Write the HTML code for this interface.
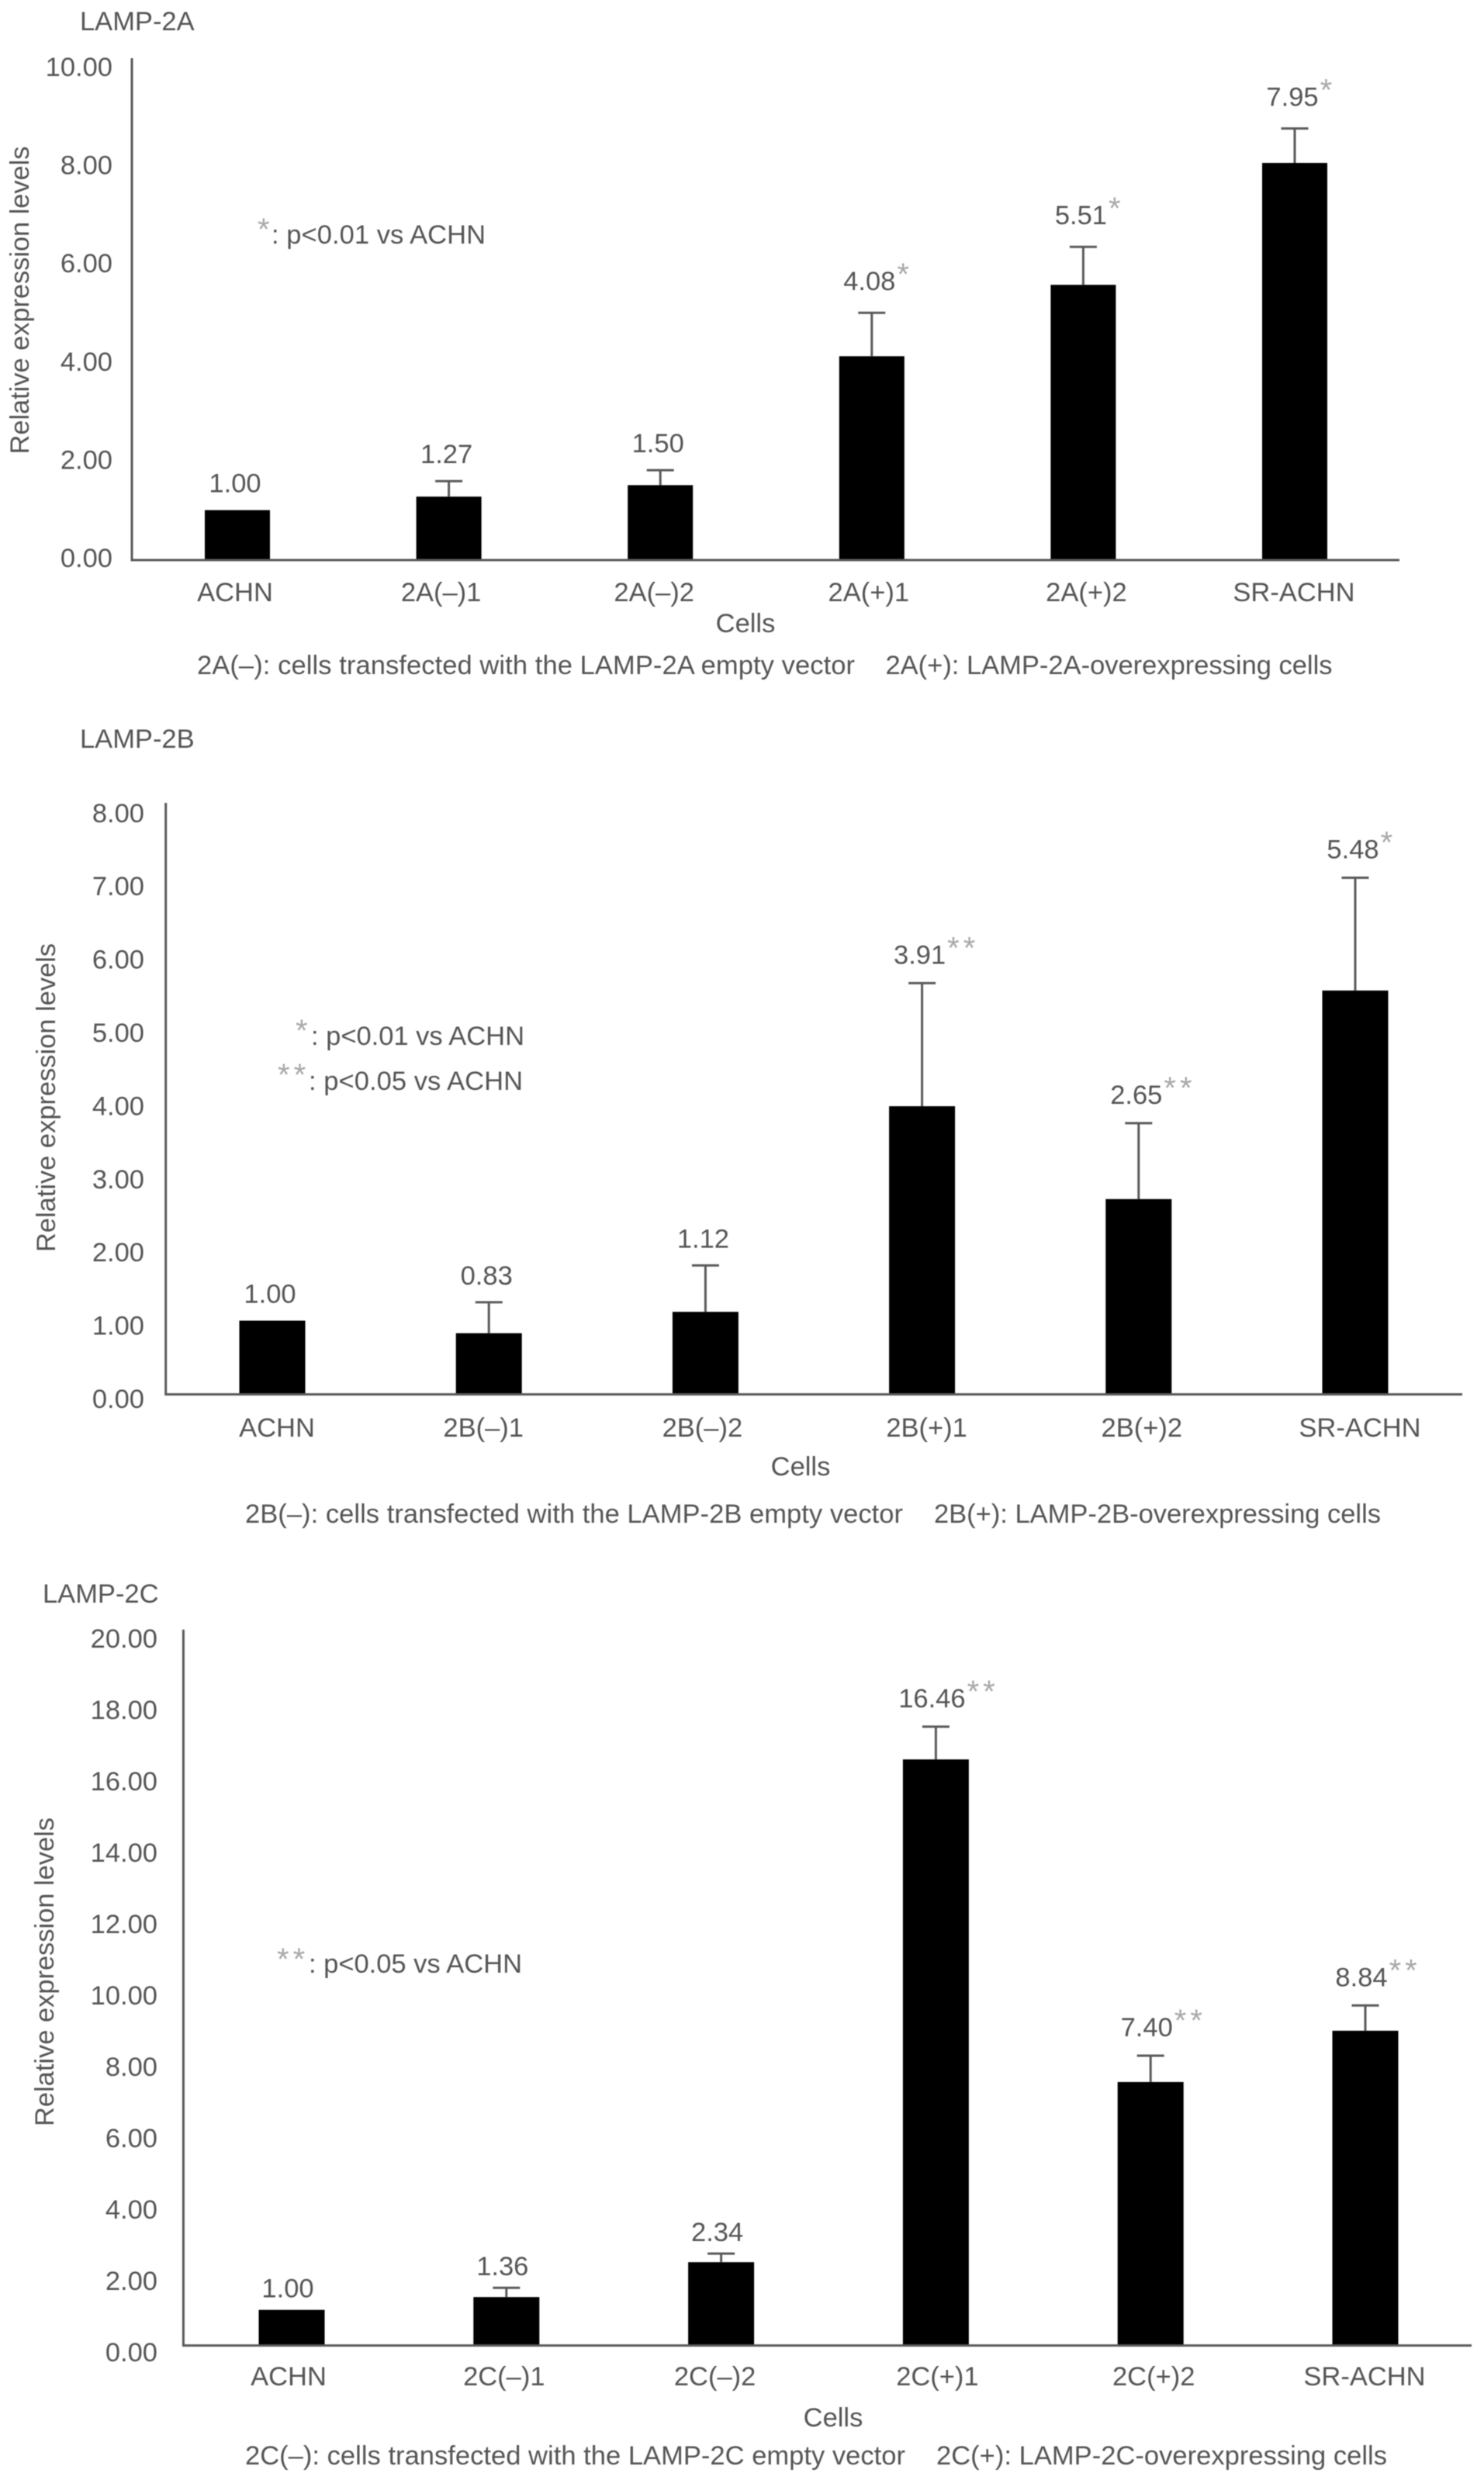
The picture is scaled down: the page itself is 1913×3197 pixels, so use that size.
<!DOCTYPE html>
<html lang="en">
<head>
<meta charset="utf-8">
<title>LAMP-2A, LAMP-2B and LAMP-2C relative expression levels</title>
<style>
html,body{margin:0;padding:0;background:#fff;}
svg{display:block;filter:blur(0.6px);}
text{font-family:"Liberation Sans",Arial,sans-serif;font-size:34.5px;fill:#555;}
.star{font-size:40px;fill:#a8a8a8;}
</style>
</head>
<body>
<svg id="figure" xmlns="http://www.w3.org/2000/svg" width="1913" height="3197" viewBox="0 0 1913 3197">
  <rect x="0" y="0" width="1913" height="3197" fill="#fff"/>

  <g id="panel-a">
    <text x="103" y="39">LAMP-2A</text>
    <text transform="translate(37,387) rotate(-90)" text-anchor="middle" textLength="397" lengthAdjust="spacing">Relative expression levels</text>
    <text x="961" y="815" text-anchor="middle">Cells</text>
    <text class="star" x="332" y="309">*</text>
    <text x="350" y="314" textLength="276" lengthAdjust="spacing">: p&lt;0.01 vs ACHN</text>
    <text x="254" y="869" textLength="848" lengthAdjust="spacing">2A(–): cells transfected with the LAMP-2A empty vector</text>
    <text x="1141.5" y="869" textLength="576" lengthAdjust="spacing">2A(+): LAMP-2A-overexpressing cells</text>
  </g>

  <g id="panel-b">
    <text x="103" y="964">LAMP-2B</text>
    <text transform="translate(71,1415) rotate(-90)" text-anchor="middle" textLength="398" lengthAdjust="spacing">Relative expression levels</text>
    <text x="1032" y="1902" text-anchor="middle">Cells</text>
    <text class="star" x="381" y="1342">*</text>
    <text x="401" y="1347" textLength="275" lengthAdjust="spacing">: p&lt;0.01 vs ACHN</text>
    <text class="star" x="358" y="1399" letter-spacing="5">**</text>
    <text x="398" y="1405" textLength="276" lengthAdjust="spacing">: p&lt;0.05 vs ACHN</text>
    <text x="316" y="1963" textLength="848" lengthAdjust="spacing">2B(–): cells transfected with the LAMP-2B empty vector</text>
    <text x="1204" y="1963" textLength="576" lengthAdjust="spacing">2B(+): LAMP-2B-overexpressing cells</text>
  </g>

  <g id="panel-c">
    <text x="55" y="2066">LAMP-2C</text>
    <text transform="translate(69,2542) rotate(-90)" text-anchor="middle" textLength="398" lengthAdjust="spacing">Relative expression levels</text>
    <text x="1074" y="3128" text-anchor="middle">Cells</text>
    <text class="star" x="357" y="2539" letter-spacing="5">**</text>
    <text x="398" y="2543" textLength="275" lengthAdjust="spacing">: p&lt;0.05 vs ACHN</text>
    <text x="316" y="3177" textLength="851" lengthAdjust="spacing">2C(–): cells transfected with the LAMP-2C empty vector</text>
    <text x="1207" y="3177" textLength="581" lengthAdjust="spacing">2C(+): LAMP-2C-overexpressing cells</text>
  </g>
</svg>

<script>
/* ---------- Panel A data ---------- */
const lamp2aCategories = ['ACHN', '2A(–)1', '2A(–)2', '2A(+)1', '2A(+)2', 'SR-ACHN'];
const lamp2aValues = [1.00, 1.27, 1.50, 4.08, 5.51, 7.95];
const lamp2aErrors = [0, 0.31, 0.30, 0.87, 0.76, 0.69];
const lamp2aStars = ['', '', '', '*', '*', '*'];
const lamp2aTicks = ['0.00', '2.00', '4.00', '6.00', '8.00', '10.00'];

/* ---------- Panel B data ---------- */
const lamp2bCategories = ['ACHN', '2B(–)1', '2B(–)2', '2B(+)1', '2B(+)2', 'SR-ACHN'];
const lamp2bValues = [1.00, 0.83, 1.12, 3.91, 2.65, 5.48];
const lamp2bErrors = [0, 0.42, 0.63, 1.67, 1.03, 1.53];
const lamp2bStars = ['', '', '', '**', '**', '*'];
const lamp2bTicks = ['0.00', '1.00', '2.00', '3.00', '4.00', '5.00', '6.00', '7.00', '8.00'];

/* ---------- Panel C data ---------- */
const lamp2cCategories = ['ACHN', '2C(–)1', '2C(–)2', '2C(+)1', '2C(+)2', 'SR-ACHN'];
const lamp2cValues = [1.00, 1.36, 2.34, 16.46, 7.40, 8.84];
const lamp2cErrors = [0, 0.26, 0.24, 0.92, 0.74, 0.71];
const lamp2cStars = ['', '', '', '**', '**', '**'];
const lamp2cTicks = ['0.00', '2.00', '4.00', '6.00', '8.00', '10.00', '12.00', '14.00', '16.00', '18.00', '20.00'];

const SVG_NS = 'http://www.w3.org/2000/svg';

function make(parent, tag, attrs, content) {
  const el = document.createElementNS(SVG_NS, tag);
  for (const key in attrs) el.setAttribute(key, attrs[key]);
  if (content !== undefined) el.textContent = content;
  parent.appendChild(el);
  return el;
}

function drawPanel(panelId, key, categories, values, errors, stars, ticks, layout) {
  const root = document.getElementById(panelId);
  /* axis functions */
  const xScale = function (i) { return layout.bandStart + layout.bandStep * (i + 0.5); };
  const yScale = function (v) { return layout.baseY - v * layout.unitPx; };
  const tickY = function (v) { return layout.tickBaseY - v * layout.tickUnitPx; };
  const lineStyle = { stroke: '#5a5a5a', 'stroke-width': 3, fill: 'none' };

  categories.forEach(function (cat, i) {
    const cx = xScale(i);
    const top = yScale(values[i]);

    const bar = make(root, 'rect', { x: cx - layout.barWidth / 2, y: top, width: layout.barWidth, height: layout.baseY - top, fill: '#000' });
    
    

    if (errors[i] > 0) {
      const capY = yScale(values[i] + errors[i]);
      const stem = make(root, 'line', Object.assign({ x1: cx, x2: cx, y1: top, y2: capY }, lineStyle));
      
      
      const cap = make(root, 'line', Object.assign({ x1: cx - 17.5, x2: cx + 17.5, y1: capY, y2: capY }, lineStyle));
      
      
    }

    const refY = yScale(values[i] + errors[i]);
    const valueCenterY = refY - (stars[i] ? layout.gapStarred : layout.gapPlain);
    const valueLabel = make(root, 'text', { x: cx + layout.valueShift, y: valueCenterY + 12, 'text-anchor': 'middle' }, values[i].toFixed(2));
    
    

    if (stars[i]) {
      const right = cx + layout.valueShift + valueLabel.getComputedTextLength() / 2;
      const star = make(root, 'text', { x: right + 2, y: valueCenterY + 5, class: 'star', 'letter-spacing': 5 }, stars[i]);
      
      
    }

    const catLabel = make(root, 'text', { x: cx + layout.catNudge[i], y: layout.catY, 'text-anchor': 'middle' }, cat);
    
    
  });

  ticks.forEach(function (label) {
    const tick = make(root, 'text', { x: layout.tickRight, y: tickY(parseFloat(label)) + 12, 'text-anchor': 'end' }, label);
    
    
  });

  const yAxis = make(root, 'line', Object.assign({ x1: layout.axisX, x2: layout.axisX, y1: layout.axisTop, y2: layout.baseY + 1.5 }, lineStyle));
  
  

  const xAxis = make(root, 'line', Object.assign({ x1: layout.axisX, x2: layout.axisEnd, y1: layout.baseY, y2: layout.baseY }, lineStyle));
  
  
}

drawPanel('panel-a', 'lamp-2a', lamp2aCategories, lamp2aValues, lamp2aErrors, lamp2aStars, lamp2aTicks, {
  axisX: 170, axisEnd: 1804, axisTop: 75, baseY: 722, unitPx: 64.4,
  bandStart: 169.7, bandStep: 272.6, barWidth: 84,
  tickBaseY: 719, tickUnitPx: 63.3, tickRight: 145,
  catY: 775, catNudge: [-3, -10, -8, -4, 4, -1], valueShift: -3, gapPlain: 35, gapStarred: 41
});

drawPanel('panel-b', 'lamp-2b', lamp2bCategories, lamp2bValues, lamp2bErrors, lamp2bStars, lamp2bTicks, {
  axisX: 213.7, axisEnd: 1885, axisTop: 1035, baseY: 1797.5, unitPx: 95,
  bandStart: 211.4, bandStep: 279.2, barWidth: 85,
  tickBaseY: 1803, tickUnitPx: 94.4, tickRight: 186,
  catY: 1852, catNudge: [6, -7, -4, 6, 4, 6], valueShift: -3, gapPlain: 35, gapStarred: 37
});

drawPanel('panel-c', 'lamp-2c', lamp2cCategories, lamp2cValues, lamp2cErrors, lamp2cStars, lamp2cTicks, {
  axisX: 236.4, axisEnd: 1897, axisTop: 2100.7, baseY: 3023.6, unitPx: 45.9,
  bandStart: 237.6, bandStep: 276.8, barWidth: 85,
  tickBaseY: 3032, tickUnitPx: 46, tickRight: 203,
  catY: 3075, catNudge: [-4, -3, -8, 2, 4, -1], valueShift: -5, gapPlain: 28, gapStarred: 37
});
</script>
</body>
</html>
